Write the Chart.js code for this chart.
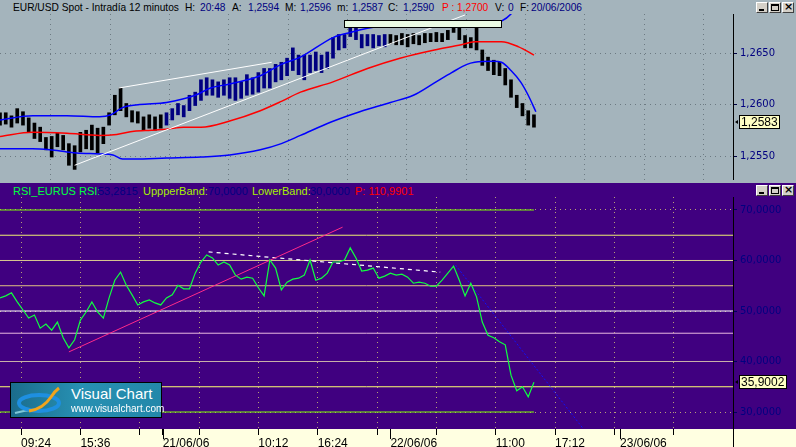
<!DOCTYPE html>
<html>
<head>
<meta charset="utf-8">
<title>EUR/USD Spot - Intradía 12 minutos</title>
<script src="https://cdn.jsdelivr.net/npm/chart.js@4.4.1/dist/chart.umd.min.js"></script>
<style>
  html, body { margin: 0; padding: 0; }
  #screen { position: relative; width: 796px; height: 447px; overflow: hidden; background: #A4B4BC; font-family: 'Liberation Sans', Arial, sans-serif; }
  .hdr { position: absolute; left: 0; width: 796px; height: 14px; }
  .hdr span { position: absolute; top: 1px; font-size: 10.2px; line-height: 13px; white-space: pre; }
  #topHdr { top: 0; }
  #rsiHdr { top: 183px; background: #400080; }
  #rsiHdr span { top: 2px; font-size: 11px; }
  canvas { position: absolute; left: 0; }
  #price { top: 14px; }
  #rsi { top: 197px; }
  .btns { position: absolute; left: 756px; display: flex; }
  .btn { width: 10px; height: 9px; margin-right: 1px; background: #D4D0C8; border: 1px solid; border-color: #FFFFFF #404040 #404040 #FFFFFF; position: relative; }
  .min::after { content: ''; position: absolute; left: 2px; top: 6px; width: 5px; height: 2px; background: #000; }
  .max::after { content: ''; position: absolute; left: 1px; top: 1px; width: 6px; height: 4px; border: 1px solid #000; border-top-width: 2px; }
  .cls::after { content: '\00d7'; position: absolute; left: 1px; top: -2px; font: bold 11px/12px 'DejaVu Sans', sans-serif; color: #000; }
  #logo { position: absolute; left: 10px; top: 382px; width: 150px; height: 34px; border: 1px solid #000;
          background: linear-gradient(90deg, #1B6C8C 0%, #2790B2 45%, #2388AA 100%); }
  #logo .t1 { position: absolute; left: 60px; top: 3px; color: #fff; font-size: 15px; line-height: 16px; }
  #logo .t2 { position: absolute; left: 60px; top: 20px; color: #fff; font-size: 10px; line-height: 11px; }
</style>
</head>
<body>
<div id="screen">
  <div id="topHdr" class="hdr">
    <span style="left:13px;color:#000">EUR/USD Spot - Intradía 12 minutos</span>
    <span style="left:185px;color:#000">H:</span><span style="left:200px;color:#000080">20:48</span>
    <span style="left:232px;color:#000">A:</span><span style="left:248px;color:#000080">1,2594</span>
    <span style="left:285px;color:#000">M:</span><span style="left:300px;color:#000080">1,2596</span>
    <span style="left:337px;color:#000">m:</span><span style="left:352px;color:#000080">1,2587</span>
    <span style="left:388px;color:#000">C:</span><span style="left:403px;color:#000080">1,2590</span>
    <span style="left:442px;color:#FF0000">P : 1,2700</span>
    <span style="left:495px;color:#000">V:</span><span style="left:508px;color:#000080">0</span>
    <span style="left:520px;color:#000">F:</span><span style="left:531px;color:#000080">20/06/2006</span>
  </div>
  <div class="btns" style="top:2px"><div class="btn min"></div><div class="btn max"></div><div class="btn cls"></div></div>

  <canvas id="price" width="796" height="166"></canvas>

  <div id="rsiHdr" class="hdr">
    <span style="left:13px;color:#00FF40">RSI_EURUS RSI:</span><span style="left:98px;color:#000080">53,2815</span>
    <span style="left:143px;color:#A8F000">UppperBand:</span><span style="left:208px;color:#000080">70,0000</span>
    <span style="left:252px;color:#A8F000">LowerBand:</span><span style="left:310px;color:#000080">30,0000</span>
    <span style="left:355px;color:#FF0000">P: 110,9901</span>
  </div>
  <div class="btns" style="top:185px"><div class="btn min"></div><div class="btn max"></div><div class="btn cls"></div></div>

  <canvas id="rsi" width="796" height="250"></canvas>

  <div id="logo">
    <svg width="150" height="34" style="position:absolute;left:0;top:0">
      <path d="M4 30 Q 14 27 24 27" stroke="#7FC8D8" stroke-width="2" fill="none"/>
      <ellipse cx="28" cy="20" rx="20" ry="8" fill="none" stroke="#1E8FE0" stroke-width="4"/>
      <path d="M18 28 Q 32 26 40 14 Q 44 8 48 5" stroke="#F2A41C" stroke-width="3" fill="none"/>
    </svg>
    <div class="t1">Visual Chart</div>
    <div class="t2">www.visualchart.com</div>
  </div>
</div>

<script>
// ---- time axis (bar index, 12 minute bars) ----
const STEP = 3; // one sample every 3 bars
const timeTicks = [11, 42, 73, 104, 135, 166, 197, 228, 259, 290, 321, 352];
const timeLabels = ['09:24', '15:36', '', '', '10:12', '16:24', '', '', '11:00', '17:12', '', ''];
const dayTicks = [85, 204, 324];
const dayLabels = ['21/06/06', '22/06/06', '23/06/06'];

// ---- price panel ----
const priceTicks = [1.2550, 1.2600, 1.2650];
const priceLow = [
  1.2580, 1.2581, 1.2578, 1.2582, 1.2580, 1.2573, 1.2567, 1.2564, 1.2556, 1.2549,
  1.2559, 1.2556, 1.2541, 1.2537, 1.2554, 1.2557, 1.2556, 1.2553, 1.2562, 1.2580,
  1.2590, 1.2594, 1.2588, 1.2583, 1.2582, 1.2575, 1.2577, 1.2575, 1.2577, 1.2580,
  1.2585, 1.2590, 1.2588, 1.2594, 1.2599, 1.2604, 1.2609, 1.2609, 1.2607, 1.2609,
  1.2606, 1.2604, 1.2606, 1.2609, 1.2610, 1.2612, 1.2616, 1.2616, 1.2622, 1.2624,
  1.2628, 1.2633, 1.2629, 1.2624, 1.2631, 1.2633, 1.2631, 1.2635, 1.2645, 1.2653,
  1.2655, 1.2666, 1.2663, 1.2655, 1.2657, 1.2655, 1.2657, 1.2656, 1.2659, 1.2658,
  1.2658, 1.2656, 1.2659, 1.2658, 1.2660, 1.2661, 1.2661, 1.2661, 1.2663, 1.2670,
  1.2663, 1.2655, 1.2655, 1.2653, 1.2638, 1.2633, 1.2629, 1.2628, 1.2619, 1.2607,
  1.2597, 1.2589, 1.2580, 1.2578
];
const priceHigh = [
  1.2592, 1.2592, 1.2589, 1.2596, 1.2593, 1.2587, 1.2582, 1.2578, 1.2568, 1.2569,
  1.2572, 1.2570, 1.2562, 1.2560, 1.2573, 1.2575, 1.2580, 1.2577, 1.2578, 1.2592,
  1.2609, 1.2616, 1.2601, 1.2594, 1.2593, 1.2588, 1.2590, 1.2588, 1.2590, 1.2592,
  1.2596, 1.2601, 1.2599, 1.2609, 1.2612, 1.2624, 1.2626, 1.2624, 1.2622, 1.2624,
  1.2626, 1.2626, 1.2622, 1.2629, 1.2626, 1.2631, 1.2635, 1.2635, 1.2639, 1.2641,
  1.2645, 1.2655, 1.2648, 1.2648, 1.2648, 1.2651, 1.2648, 1.2651, 1.2665, 1.2668,
  1.2668, 1.2679, 1.2674, 1.2668, 1.2668, 1.2668, 1.2667, 1.2668, 1.2668, 1.2667,
  1.2669, 1.2668, 1.2669, 1.2667, 1.2669, 1.2669, 1.2670, 1.2669, 1.2672, 1.2680,
  1.2676, 1.2667, 1.2665, 1.2675, 1.2653, 1.2646, 1.2643, 1.2641, 1.2635, 1.2624,
  1.2609, 1.2601, 1.2594, 1.2590
];
const lastPrice = 1.2583;

const maIdx = [0, 17, 35, 52, 61, 70, 79, 87, 96, 105, 120, 136, 147, 157, 174, 192, 209, 227, 241, 248, 262, 271, 279];
const maVal = [1.2569, 1.2573, 1.2572, 1.2570, 1.2571, 1.2574, 1.2575, 1.2576, 1.2578, 1.2578, 1.2584, 1.2594,
               1.2603, 1.2612, 1.2622, 1.2635, 1.2645, 1.2653, 1.2658, 1.2661, 1.2661, 1.2656, 1.2648];
const upIdx = [0, 17, 35, 52, 58, 64, 73, 87, 102, 110, 120, 136, 147, 157, 174, 183, 192, 209, 227, 244, 258, 262, 267, 272, 279];
const upVal = [1.2585, 1.2589, 1.2589, 1.2588, 1.2590, 1.2597, 1.2600, 1.2602, 1.2609, 1.2616, 1.2620, 1.2628, 1.2639,
               1.2646, 1.2665, 1.2670, 1.2674, 1.2679, 1.2681, 1.2680, 1.2679, 1.2681, 1.2688, 1.2702, 1.2717];
const loIdx = [0, 17, 26, 35, 40, 52, 59, 64, 70, 87, 105, 120, 136, 147, 157, 173, 188, 204, 216, 227, 236, 244, 248, 258, 262, 267, 272, 276, 280];
const loVal = [1.2557, 1.2557, 1.2556, 1.2554, 1.2553, 1.2552, 1.2551, 1.2547, 1.2547, 1.2548, 1.2549, 1.2551, 1.2556,
               1.2562, 1.2570, 1.2583, 1.2593, 1.2602, 1.2609, 1.2621, 1.2631, 1.2639, 1.2641, 1.2642, 1.2641, 1.2633,
               1.2622, 1.2609, 1.2593];

// hand drawn objects on the price panel: [bar, price]
const channelLow = [[39, 1.2541], [243, 1.2687]];
const channelHigh = [[62, 1.2616], [142, 1.2641]];
const boxBars = [180, 262];
const boxPrices = [1.2675, 1.2682];

// ---- RSI panel ----
const rsiTicks = [30, 40, 50, 60, 70];
const rsi = [
  52.6, 53.0, 53.6, 51.8, 50.2, 48.6, 49.2, 46.6, 47.4, 46.2,
  47.8, 44.7, 42.7, 44.3, 48.2, 49.8, 51.8, 49.8, 48.6, 52.6,
  56.1, 57.7, 55.1, 53.2, 51.2, 51.8, 52.2, 51.6, 51.2, 52.6,
  53.2, 55.1, 54.4, 54.4, 57.5, 59.7, 61.1, 60.5, 59.1, 59.7,
  59.1, 57.1, 56.3, 56.7, 56.5, 54.6, 53.0, 60.1, 58.5, 54.2,
  55.7, 56.3, 56.5, 57.1, 60.1, 56.1, 56.5, 57.5, 59.7, 59.7,
  60.1, 62.5, 60.5, 57.9, 58.1, 58.5, 56.5, 56.9, 57.5, 57.1,
  57.3, 56.7, 55.5, 55.7, 55.5, 54.9, 54.9, 56.1, 57.5, 58.9,
  56.1, 53.0, 55.5, 52.8, 47.8, 45.2, 44.7, 43.9, 43.3, 37.3,
  34.2, 35.0, 33.0, 35.9
];
const lastRsi = 35.9002;
const upperBand = 70;
const lowerBand = 30;
const rsiLevels = [65, 60, 55, 50, 45.6, 40, 35];
const levelColors = ['#F0F070', '#D8C890', '#E0C080', '#FFFFFF', '#E8B8E0', '#C8B0A8', '#FFFF70'];
const rsiTrend = [[36, 41.9], [179, 66.6]];
const rsiResistance = [[109, 61.7], [230, 57.7]];
const rsiProjection = [[238, 59.1], [308, 25.1]];

// ---------------------------------------------------------------
Chart.defaults.font.family = "'DejaVu Sans', sans-serif";
Chart.defaults.font.size = 10;

const pts = arr => arr.map(p => ({ x: p[0], y: p[1] }));
const zip = (xs, ys) => xs.map((x, k) => ({ x: x, y: ys[k] }));
const fmt = v => v.toFixed(4).replace('.', ',');
const line = (data, color, width, extra) => Object.assign({
  type: 'line', data: data, borderColor: color, borderWidth: width,
  pointRadius: 0, fill: false, tension: 0
}, extra || {});

function drawTag(chart, value, text) {
  const { ctx, chartArea, scales: { y } } = chart;
  const py = Math.round(y.getPixelForValue(value));
  const x0 = chartArea.right + 6;
  ctx.save();
  ctx.font = "12px 'Liberation Sans', Arial, sans-serif";
  const w = Math.ceil(ctx.measureText(text).width) + 4;
  ctx.fillStyle = '#FFFFC4';
  ctx.fillRect(x0, py - 7, w, 14);
  ctx.strokeStyle = '#000';
  ctx.lineWidth = 1;
  ctx.strokeRect(x0 + 0.5, py - 6.5, w - 1, 13);
  ctx.fillStyle = '#000';
  ctx.textBaseline = 'middle';
  ctx.fillText(text, x0 + 2, py + 1);
  ctx.beginPath();
  ctx.moveTo(chartArea.right + 2, py);
  ctx.lineTo(chartArea.right + 5, py - 2);
  ctx.lineTo(chartArea.right + 5, py + 2);
  ctx.closePath();
  ctx.fill();
  ctx.restore();
}

const priceOverlay = {
  id: 'priceOverlay',
  afterDatasetsDraw(chart) {
    const { ctx, scales: { x, y } } = chart;
    const x0 = Math.round(x.getPixelForValue(boxBars[0])) + 0.5;
    const x1 = Math.round(x.getPixelForValue(boxBars[1])) + 0.5;
    const y0 = Math.round(y.getPixelForValue(boxPrices[1])) + 0.5;
    const y1 = Math.round(y.getPixelForValue(boxPrices[0])) + 0.5;
    ctx.save();
    ctx.fillStyle = '#EAFBE4';
    ctx.fillRect(x0, y0, x1 - x0, y1 - y0);
    ctx.strokeStyle = '#000';
    ctx.lineWidth = 1;
    ctx.strokeRect(x0, y0, x1 - x0, y1 - y0);
    ctx.restore();
  },
  afterDraw(chart) { drawTag(chart, lastPrice, fmt(lastPrice)); }
};

const rsiOverlay = {
  id: 'rsiOverlay',
  beforeDraw(chart) {
    const { ctx, chartArea, width, height } = chart;
    ctx.save();
    ctx.fillStyle = '#400080';
    ctx.fillRect(0, 0, width, chartArea.bottom);
    ctx.fillStyle = '#FFFFE1';
    ctx.fillRect(0, chartArea.bottom, width, height - chartArea.bottom);
    ctx.restore();
  },
  afterDraw(chart) {
    const { ctx, chartArea, height, scales: { x } } = chart;
    ctx.save();
    ctx.strokeStyle = '#000';
    ctx.lineWidth = 1;
    ctx.beginPath();
    dayTicks.forEach(d => {
      const px = Math.round(x.getPixelForValue(d)) + 0.5;
      ctx.moveTo(px, chartArea.bottom);
      ctx.lineTo(px, chartArea.bottom + 10);
    });
    const ax = Math.round(chartArea.right) + 0.5;
    ctx.moveTo(ax, chartArea.bottom);
    ctx.lineTo(ax, height);
    ctx.stroke();
    ctx.restore();
    drawTag(chart, lastRsi, fmt(lastRsi));
  }
};

const dayColor = c => {
  const bx = c.raw ? c.raw.x : 0;
  return bx >= dayTicks[0] && bx < dayTicks[1] ? '#000080' : '#000000';
};

new Chart(document.getElementById('price'), {
  type: 'bar',
  data: {
    datasets: [
      line(pts(channelLow), '#FFFFFF', 1, { order: 1 }),
      line(pts(channelHigh), '#FFFFFF', 1, { order: 1 }),
      line(zip(upIdx, upVal), '#0000FF', 1.5, { order: 2, cubicInterpolationMode: 'monotone' }),
      line(zip(loIdx, loVal), '#0000FF', 1.5, { order: 2, cubicInterpolationMode: 'monotone' }),
      line(zip(maIdx, maVal), '#FF0000', 1.5, { order: 2, cubicInterpolationMode: 'monotone' }),
      {
        type: 'bar', label: 'EUR/USD',
        data: priceLow.map((lo, k) => ({ x: k * STEP, y: [lo, priceHigh[k]] })),
        backgroundColor: dayColor, borderWidth: 0, barThickness: 3, order: 10
      }
    ]
  },
  options: {
    responsive: false, animation: false, events: [],
    layout: { padding: 0 },
    plugins: { legend: { display: false }, tooltip: { enabled: false } },
    scales: {
      x: {
        type: 'linear', min: 0, max: 383, offset: false,
        afterBuildTicks: s => { s.ticks = timeTicks.map(v => ({ value: v })); },
        afterFit: s => { s.height = 0; s.paddingLeft = 0; s.paddingRight = 0; },
        ticks: { display: false },
        grid: { color: '#6C7A82', drawTicks: false },
        border: { display: false, dash: [1, 4] }
      },
      y: {
        position: 'right', min: 1.25267, max: 1.26879,
        afterBuildTicks: s => { s.ticks = priceTicks.map(v => ({ value: v })); },
        afterFit: s => { s.width = 63; s.paddingTop = 0; s.paddingBottom = 0; },
        ticks: { color: '#000080', padding: 3, callback: v => fmt(v) },
        grid: { color: '#6C7A82', tickColor: '#000040', tickLength: 4 },
        border: { display: true, color: '#000000', width: 1, dash: [1, 4] }
      }
    }
  },
  plugins: [priceOverlay]
});

const levelSets = rsiLevels.map((lv, k) =>
  line([{ x: 0, y: lv }, { x: 383, y: lv }], levelColors[k], 1, { order: 5 }));

new Chart(document.getElementById('rsi'), {
  type: 'line',
  data: {
    datasets: levelSets.concat([
      line([{ x: 0, y: upperBand }, { x: (rsi.length - 1) * STEP, y: upperBand }], '#80FF00', 1, { order: 4 }),
      line([{ x: 0, y: lowerBand }, { x: (rsi.length - 1) * STEP, y: lowerBand }], '#80FF00', 1, { order: 4 }),
      line(pts(rsiTrend), '#FF2A8A', 1, { order: 2 }),
      line(pts(rsiResistance), '#FFFFFF', 1.2, { order: 2, borderDash: [4, 4] }),
      line(pts(rsiProjection), '#1010FF', 1, { order: 2, borderDash: [2, 2] }),
      line(rsi.map((v, k) => ({ x: k * STEP, y: v })), '#10FF40', 1.2, { order: 1, label: 'RSI' })
    ])
  },
  options: {
    responsive: false, animation: false, events: [],
    layout: { padding: 0 },
    plugins: { legend: { display: false }, tooltip: { enabled: false } },
    scales: {
      x: {
        type: 'linear', min: 0, max: 383, offset: false,
        afterBuildTicks: s => {
          s.ticks = timeTicks.concat(dayTicks).sort((a, b) => a - b).map(v => ({ value: v }));
        },
        afterFit: s => { s.height = 18; s.paddingLeft = 0; s.paddingRight = 0; },
        ticks: {
          color: '#000000', padding: 1, align: 'start', autoSkip: false, maxRotation: 0,
          font: { family: "'Liberation Sans', Arial, sans-serif", size: 12 },
          callback: v => {
            const t = timeTicks.indexOf(v);
            if (t >= 0) return timeLabels[t];
            const d = dayTicks.indexOf(v);
            return d >= 0 ? dayLabels[d] : '';
          }
        },
        grid: {
          color: c => (c.tick && dayTicks.includes(c.tick.value)) ? 'rgba(0,0,0,0)' : '#B8A078',
          tickColor: '#000000', tickLength: 6
        },
        border: { display: false, dash: [1, 4] }
      },
      y: {
        position: 'right', min: 26.634, max: 72.574,
        afterBuildTicks: s => { s.ticks = rsiTicks.map(v => ({ value: v })); },
        afterFit: s => { s.width = 63; s.paddingTop = 0; s.paddingBottom = 0; },
        ticks: { color: '#000080', padding: 3, callback: v => fmt(v) },
        grid: { color: '#B8A078', tickColor: '#000060', tickLength: 4 },
        border: { display: true, color: '#000000', width: 1, dash: [1, 4] }
      }
    }
  },
  plugins: [rsiOverlay]
});
</script>
</body>
</html>
